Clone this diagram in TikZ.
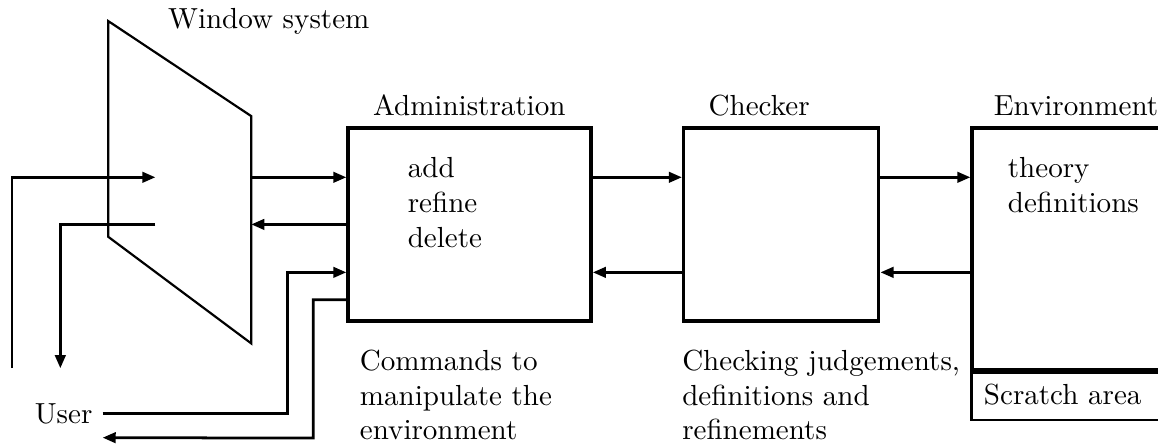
\documentclass[tikz,border=0pt]{standalone}
\usepackage{tikz}
\usetikzlibrary{arrows.meta,positioning,calc}

\begin{document}
\begin{tikzpicture}[
  box/.style={draw, line width=1.2pt, inner sep=0pt},
  wire/.style={line width=0.95pt, -{Triangle[length=4.5pt,width=3.6pt]}}
]
\clip (0,0) rectangle (14.01,5.385);

% window system
\coordinate (w1) at (1.31,5.13);
\coordinate (w2) at (3.04,3.98);
\coordinate (w3) at (3.04,1.23);
\coordinate (w4) at (1.31,2.52);
\draw[line width=0.75pt] (w1)--(w2)--(w3)--(w4)--cycle;
\node[right=0.6cm of w1] (winlbl) {Window system};

% blocks
\node[box, anchor=north west, minimum width=2.94cm, minimum height=2.34cm] (admin) at (4.19,3.86) {};
\node[box, anchor=north west, minimum width=2.36cm, minimum height=2.34cm] (checker) at (8.25,3.86) {};
\node[box, anchor=north west, minimum width=3cm, minimum height=2.93cm] (env) at (11.74,3.86) {};
\node[draw, line width=0.8pt, anchor=north west, minimum width=3cm, minimum height=0.57cm] (scratch) at (env.south west) {};

\node[anchor=south west] (adminlbl) at ([xshift=0.2cm]admin.north west) {Administration};
\node[anchor=south west] (checklbl) at ([xshift=0.2cm]checker.north west) {Checker};
\node[anchor=south west] (envlbl) at ([xshift=0.16cm]env.north west) {Environment};
\node[anchor=west] (scratchlbl) at ([xshift=0.04cm,yshift=0.02cm]scratch.west) {Scratch area};

\node[anchor=north west, align=left] (cmds) at ([xshift=0.62cm,yshift=-0.26cm]admin.north west) {add\\refine\\delete};
\node[anchor=north west, align=left] (envitems) at ([xshift=0.33cm,yshift=-0.26cm]env.north west) {theory\\definitions};

\node[anchor=north west, align=left] (admindesc) at ([xshift=0.04cm,yshift=-0.2cm]admin.south west) {Commands to\\manipulate the\\environment};
\node[anchor=north west, align=left] (checkdesc) at ([xshift=-0.12cm,yshift=-0.2cm]checker.south west) {Checking judgements,\\definitions and\\refinements};

% user side
\node (user) at (0.77,0.38) {User};
\coordinate (uin) at (0.145,0.93);
\coordinate (uout) at (0.73,0.93);
\coordinate (kin) at (1.88,3.24);
\coordinate (kout) at (1.88,2.67);
\coordinate (back) at (0,2.09);

\draw[wire] (uin) |- (kin);
\draw[wire] (kout) -| (uout);
\draw[wire] (w2 |- kin) -- (admin.west |- kin);
\draw[wire] (admin.west |- kout) -- (w2 |- kout);
\draw[wire] (user.east) -| (3.48,2.09) -- (admin.west |- back);
\draw[wire] ([yshift=0.28cm]admin.south west) -| (3.79,0.085) -- ([yshift=-0.29cm]user.east);

% between the blocks
\draw[wire] (admin.east |- kin) -- (checker.west |- kin);
\draw[wire] (checker.west |- back) -- (admin.east |- back);
\draw[wire] (checker.east |- kin) -- (env.west |- kin);
\draw[wire] (env.west |- back) -- (checker.east |- back);
\end{tikzpicture}
\end{document}
